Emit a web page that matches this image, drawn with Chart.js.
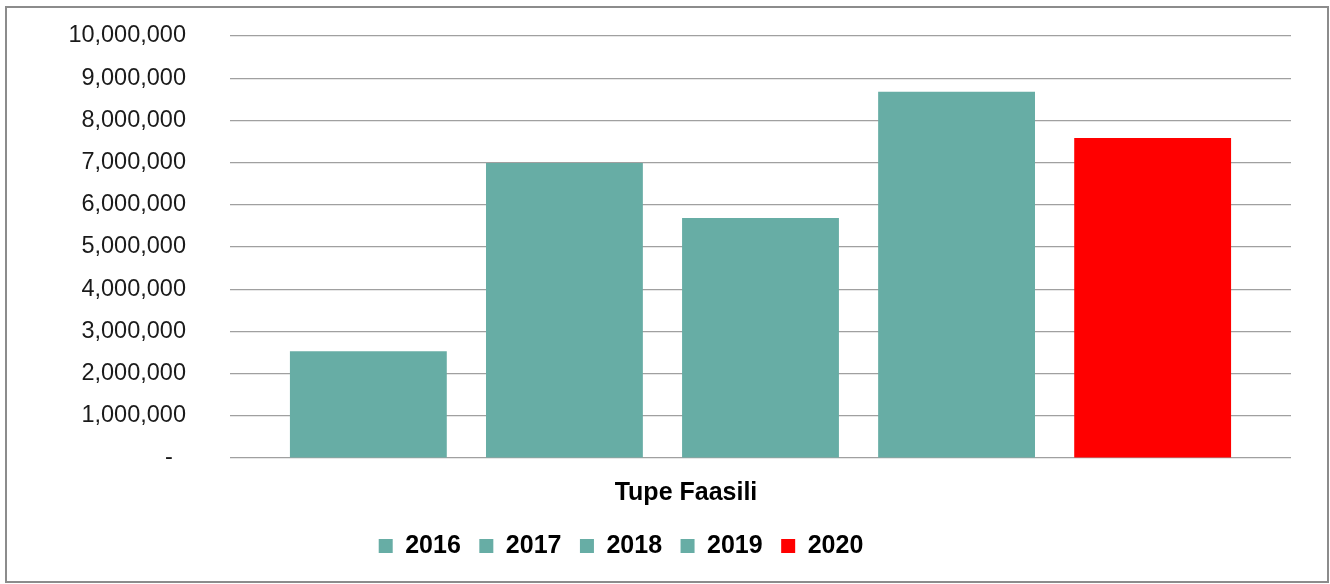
<!DOCTYPE html>
<html>
<head>
<meta charset="utf-8">
<script src="https://cdn.jsdelivr.net/npm/chart.js@4/dist/chart.umd.min.js"></script>
<style>
  html, body { margin: 0; padding: 0; background: #fff; }
  #frame { position: absolute; left: 5px; top: 6px; width: 1324px; height: 577px;
           border: 2px solid #8c8c8c; box-sizing: border-box; background: #fff; }
  #wrap { position: absolute; left: 0; top: 0; width: 1320px; height: 573px; }
</style>
</head>
<body>
<div id="frame"><div id="wrap"><canvas id="c"></canvas></div></div>
<script>
const categories = ['Tupe Faasili'];
const years = ['2016', '2017', '2018', '2019', '2020'];
const values = [2530000, 6990000, 5690000, 8680000, 7580000];
const colors = ['#67ADA5', '#67ADA5', '#67ADA5', '#67ADA5', '#FF0000'];
const yTicks = { min: 0, max: 10000000, step: 1000000 };

const FONT = "'Liberation Sans', Arial, sans-serif";

const legendShift = {
  id: 'legendShift',
  afterLayout(chart) {
    if (chart.legend) { chart.legend.left -= 28; chart.legend.right -= 28; }
  }
};

new Chart(document.getElementById('c'), {
  type: 'bar',
  data: {
    labels: categories,
    datasets: years.map((y, i) => ({
      label: y,
      data: [values[i]],
      backgroundColor: colors[i],
      borderWidth: 0,
      categoryPercentage: 0.924,
      barPercentage: 0.80
    }))
  },
  options: {
    responsive: true,
    maintainAspectRatio: false,
    animation: false,
    layout: { padding: { top: 28, right: 36, bottom: 12.5, left: 0 } },
    plugins: {
      tooltip: { enabled: false },
      legend: {
        position: 'bottom',
        labels: {
          boxWidth: 14, boxHeight: 14, padding: 18.5,
          color: '#000',
          font: { family: FONT, size: 25, weight: 'bold' }
        }
      }
    },
    scales: {
      x: {
        grid: { display: false, drawTicks: false },
        border: { display: false },
        ticks: {
          padding: 20,
          labelOffset: -74.5,
          color: '#000',
          font: { family: FONT, size: 25, weight: 'bold' }
        },
        afterFit(scale) { scale.height = 57; }
      },
      y: {
        min: yTicks.min, max: yTicks.max,
        grid: { color: '#a0a0a0', lineWidth: 1.2, drawTicks: true, tickLength: 44, tickColor: 'rgba(0,0,0,0)' },
        border: { display: false },
        ticks: {
          stepSize: yTicks.step,
          padding: 0,
          color: '#1a1a1a',
          font: { family: FONT, size: 23.5 },
          callback: v => v === 0 ? '-  ' : v.toLocaleString('en-US')
        },
        afterFit(scale) { scale.width = 223; }
      }
    }
  },
  plugins: [legendShift]
});
</script>
</body>
</html>
